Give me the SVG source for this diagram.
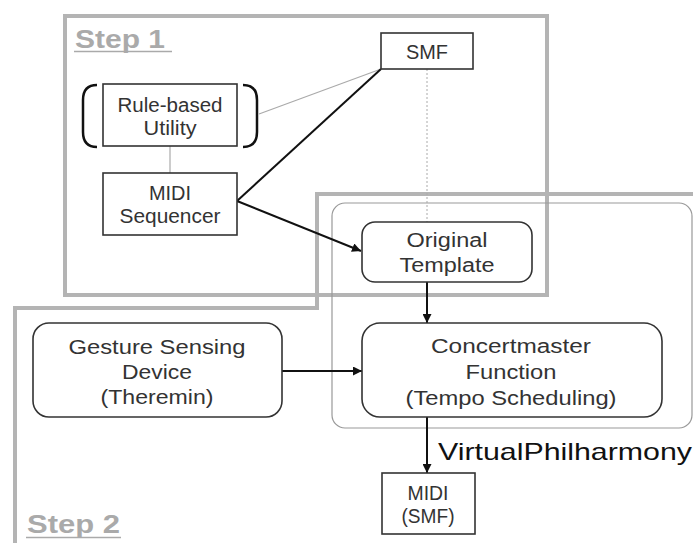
<svg xmlns="http://www.w3.org/2000/svg" width="693" height="543" viewBox="0 0 693 543">
<defs>
<style>
.step{fill:none;stroke:#b4b4b4;stroke-width:4}
.node{fill:#fff;stroke:#333;stroke-width:1.6}
.t{font-family:"Liberation Sans",Arial,sans-serif;font-size:20px;fill:#333;text-anchor:middle}
.lbl{font-family:"Liberation Sans",Arial,sans-serif;font-size:26px;font-weight:bold;fill:#aaa}
.conn{fill:none;stroke:#111;stroke-width:2}
.thin{fill:none;stroke:#aaa;stroke-width:1.2}
</style>
<marker id="arr" viewBox="0 0 10 10" refX="10" refY="5" markerWidth="9" markerHeight="9" markerUnits="userSpaceOnUse" orient="auto">
<path d="M0,0 L10,5 L0,10 z" fill="#111"/>
</marker>
</defs>
<rect width="693" height="543" fill="#fff"/>

<g id="step1">
<rect class="step" x="65" y="16" width="482" height="279"/>
<text class="lbl" x="75" y="48" textLength="90" lengthAdjust="spacingAndGlyphs">Step 1</text>
<line x1="74" y1="51.5" x2="172" y2="51.5" stroke="#aaa" stroke-width="1.5"/>
</g>

<g id="step2">
<polyline class="step" points="15,543 15,308 317,308 317,194 693,194"/>
<text class="lbl" x="27" y="533" textLength="93" lengthAdjust="spacingAndGlyphs">Step 2</text>
<line x1="26" y1="537.5" x2="121" y2="537.5" stroke="#aaa" stroke-width="1.5"/>
</g>

<g id="virtualphilharmony">
<rect x="332" y="203" width="360" height="225" rx="13" fill="none" stroke="#999" stroke-width="1.2"/>
<text x="438" y="460" font-family="Liberation Sans,Arial,sans-serif" font-size="24" fill="#111" textLength="254" lengthAdjust="spacingAndGlyphs">VirtualPhilharmony</text>
</g>

<g id="connectors">
<line class="thin" x1="259" y1="114" x2="381" y2="69"/>
<line class="thin" x1="170" y1="146" x2="170" y2="173"/>
<line x1="427" y1="69" x2="427" y2="222" stroke="#aaa" stroke-width="1" stroke-dasharray="2,2"/>
<line class="conn" x1="237" y1="201" x2="381" y2="69"/>
<line class="conn" x1="237" y1="201" x2="361" y2="251" marker-end="url(#arr)"/>
<line class="conn" x1="427" y1="282" x2="427" y2="323" marker-end="url(#arr)"/>
<line class="conn" x1="282" y1="371" x2="362" y2="371" marker-end="url(#arr)"/>
<line class="conn" x1="427" y1="417" x2="427" y2="473" marker-end="url(#arr)"/>
</g>

<g id="smf">
<rect class="node" x="381" y="33" width="92" height="36"/>
<text class="t" x="427" y="59" textLength="42" lengthAdjust="spacingAndGlyphs">SMF</text>
</g>

<g id="rule-based-utility">
<path d="M97,85 Q83,85 83,100 L83,132 Q83,147 97,147" fill="none" stroke="#111" stroke-width="2.5"/>
<path d="M243,85 Q257,85 257,100 L257,132 Q257,147 243,147" fill="none" stroke="#111" stroke-width="2.5"/>
<rect class="node" x="103" y="84" width="134" height="62"/>
<text class="t" x="170" y="112" textLength="105" lengthAdjust="spacingAndGlyphs">Rule-based</text>
<text class="t" x="170" y="135" textLength="53" lengthAdjust="spacingAndGlyphs">Utility</text>
</g>

<g id="midi-sequencer">
<rect class="node" x="103" y="173" width="134" height="62"/>
<text class="t" x="170" y="200" textLength="42" lengthAdjust="spacingAndGlyphs">MIDI</text>
<text class="t" x="170" y="223" textLength="101" lengthAdjust="spacingAndGlyphs">Sequencer</text>
</g>

<g id="original-template">
<rect class="node" x="362" y="222" width="170" height="60" rx="13"/>
<text class="t" x="447" y="247" textLength="81" lengthAdjust="spacingAndGlyphs">Original</text>
<text class="t" x="447" y="272" textLength="95" lengthAdjust="spacingAndGlyphs">Template</text>
</g>

<g id="gesture-sensing-device">
<rect class="node" x="33" y="323" width="249" height="94" rx="16"/>
<text class="t" x="157" y="354" textLength="177" lengthAdjust="spacingAndGlyphs">Gesture Sensing</text>
<text class="t" x="157" y="379" textLength="70" lengthAdjust="spacingAndGlyphs">Device</text>
<text class="t" x="157" y="404" textLength="113" lengthAdjust="spacingAndGlyphs">(Theremin)</text>
</g>

<g id="concertmaster-function">
<rect class="node" x="362" y="323" width="300" height="94" rx="18"/>
<text class="t" x="511" y="353" textLength="160" lengthAdjust="spacingAndGlyphs">Concertmaster</text>
<text class="t" x="511" y="379" textLength="91" lengthAdjust="spacingAndGlyphs">Function</text>
<text class="t" x="511" y="405" textLength="211" lengthAdjust="spacingAndGlyphs">(Tempo Scheduling)</text>
</g>

<g id="midi-smf">
<rect class="node" x="382" y="473" width="93" height="61"/>
<text class="t" x="428" y="500" textLength="41" lengthAdjust="spacingAndGlyphs">MIDI</text>
<text class="t" x="428" y="523" textLength="53" lengthAdjust="spacingAndGlyphs">(SMF)</text>
</g>
</svg>
